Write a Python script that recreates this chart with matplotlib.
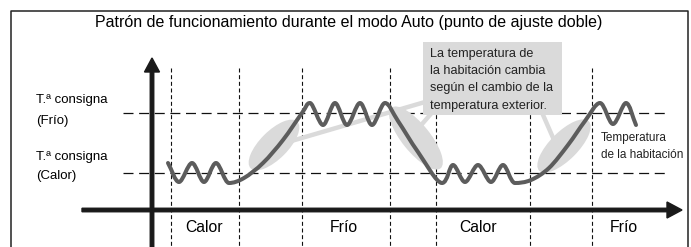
import matplotlib
matplotlib.use("Agg")
import matplotlib.pyplot as plt
import numpy as np
from matplotlib.path import Path
from matplotlib.patches import PathPatch, Ellipse, Rectangle

plt.rcParams['font.family'] = ['Liberation Sans', 'DejaVu Sans']

# esquema en coordenadas de pixel (y hacia abajo)
title = "Patrón de funcionamiento durante el modo Auto (punto de ajuste doble)"
zone_labels = ["Calor", "Frío", "Calor", "Frío"]
zone_x = [204, 344, 478, 624]
limites = [171, 239, 302, 390, 436, 530, 592]
consigna_frio = 113
consigna_calor = 173
callout = ["La temperatura de", "la habitación cambia",
           "según el cambio de la", "temperatura exterior."]

# temperatura de la habitación (puntos clave de la curva)
curva_x = [168, 179, 192, 204, 216, 229, 244, 263, 283, 302,
           310, 323, 335, 347, 360, 372, 385, 398, 418,
           442, 453, 465, 478, 491, 503, 515, 531, 549, 568, 585,
           600, 613, 626, 636]
curva_y = [163, 182, 163, 182, 163, 183, 178, 163, 140, 113,
           103, 125, 103, 125, 103, 125, 103, 121, 152,
           183, 165, 182, 165, 182, 165, 183, 180, 168, 145, 121,
           103, 124, 103, 125]

# zonas de cambio (elipses)
elip_cx = [274, 416, 564]
elip_cy = [145, 138, 146]
elip_len = [66, 78, 70]
elip_ang = [-45, 51, -45]


def smooth_path(xs, ys):
    p = np.column_stack([xs, ys]).astype(float)
    n = len(p)
    t = np.zeros_like(p)
    for i in range(n):
        a = p[max(i - 1, 0)]
        b = p[min(i + 1, n - 1)]
        t[i] = (b - a) / (2 if 0 < i < n - 1 else 1)
        if 0 < i < n - 1:
            if (p[i, 1] - a[1]) * (p[i, 1] - b[1]) > 0:
                t[i, 1] = 0
    verts = [p[0]]
    codes = [Path.MOVETO]
    for i in range(n - 1):
        verts += [p[i] + t[i] / 3, p[i + 1] - t[i + 1] / 3, p[i + 1]]
        codes += [Path.CURVE4] * 3
    return Path(verts, codes)


fig = plt.figure(figsize=(6.91, 2.47), dpi=100)
ax = fig.add_axes([0, 0, 1, 1])
ax.set_xlim(0, 691)
ax.set_ylim(247, 0)
ax.axis('off')

# marco
ax.plot([11, 11, 688, 688], [247, 11, 11, 247], color='#222222', lw=1.1)
ax.text(349, 23, title, ha='center', va='center', fontsize=11.5)

# lineas discontinuas
for x in limites:
    ax.plot([x, x], [68, 247], color='#111111', lw=0.8,
            linestyle=(0, (3.6, 2.4)), zorder=1)
for y in [consigna_frio, consigna_calor]:
    ax.plot([123, 667], [y, y], color='#111111', lw=0.9,
            linestyle=(0, (8, 4.5)), zorder=1)

# ejes
ax.arrow(152, 247, 0, -189, width=3.5, head_width=15, head_length=14,
         length_includes_head=True, color='#1a1a1a', zorder=3)
ax.arrow(82, 210, 600, 0, width=3.5, head_width=16, head_length=15,
         length_includes_head=True, color='#1a1a1a', zorder=3)

# etiquetas de consigna
ax.text(36, 100, "T.ª consigna", va='center', fontsize=9.5)
ax.text(36, 121, "(Frío)", va='center', fontsize=9.5)
ax.text(36, 157, "T.ª consigna", va='center', fontsize=9.5)
ax.text(36, 176, "(Calor)", va='center', fontsize=9.5)

for x, lab in zip(zone_x, zone_labels):
    ax.text(x, 227, lab, ha='center', va='center', fontsize=11.3)

# elipses y lineas de llamada
gris = '#dadada'
for cx, cy, L, ang in zip(elip_cx, elip_cy, elip_len, elip_ang):
    ax.add_patch(Ellipse((cx, cy), L, 28, angle=ang, color=gris, lw=0, zorder=2))
ax.plot([288, 425], [142, 102], color=gris, lw=3.2, solid_capstyle='butt', zorder=2)
ax.plot([416, 436], [131, 108], color=gris, lw=3.2, solid_capstyle='butt', zorder=2)
ax.plot([554, 540], [140, 108], color=gris, lw=3.2, solid_capstyle='butt', zorder=2)

ax.add_patch(Rectangle((423, 42), 139, 73, color=gris, lw=0, zorder=4))
for i, line in enumerate(callout):
    ax.text(430, 57 + i * 17.2, line, va='baseline', fontsize=9.1, zorder=5,
            color='#222222')

# curva
ax.add_patch(PathPatch(smooth_path(curva_x, curva_y), fill=False,
                       edgecolor='#5c5c5c', lw=2.9, capstyle='round',
                       joinstyle='round', zorder=3))

ax.text(601, 138, "Temperatura", va='center', fontsize=8.5, color='#222222')
ax.text(601, 155, "de la habitación", va='center', fontsize=8.5, color='#222222')

fig.savefig("out.png", dpi=100)
